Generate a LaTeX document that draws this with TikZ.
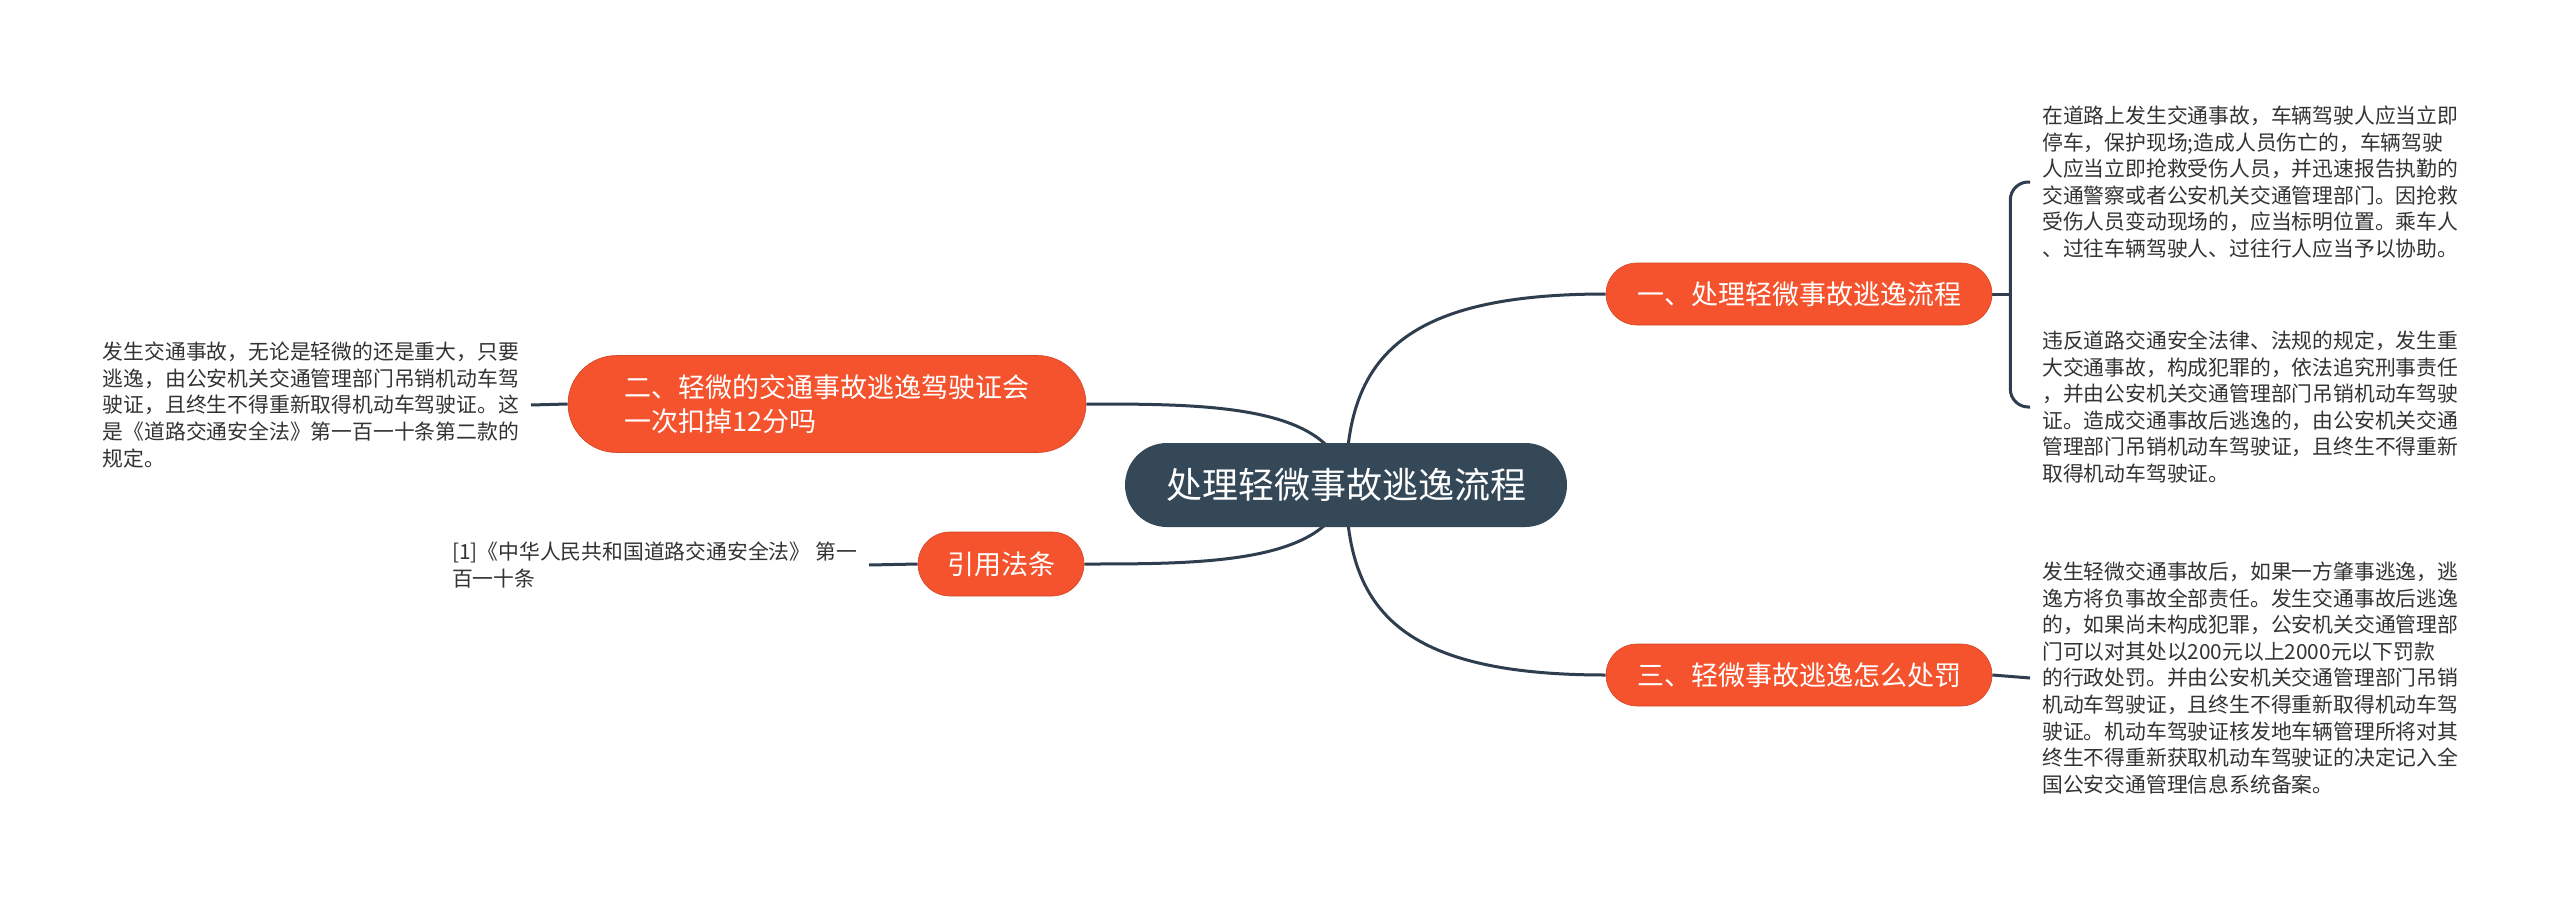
\documentclass[tikz,border=0pt]{standalone}
\usepackage{fontspec}
\setmainfont{Noto Sans CJK SC}
\usetikzlibrary{shapes.misc,backgrounds}
\definecolor{rootc}{HTML}{354858}
\definecolor{orc}{HTML}{F5532D}
\definecolor{linec}{HTML}{2F3E4E}
\definecolor{textc}{HTML}{333333}
\tikzset{
  rootnode/.style={rounded rectangle, fill=rootc, text=white, minimum width=442pt, minimum height=84pt, inner sep=0pt, font=\fontsize{36}{42}\selectfont},
  branchnode/.style={rounded rectangle, fill=orc, draw=orc!85!black, line width=0.6pt, text=white, minimum height=62pt, inner sep=0pt, font=\fontsize{27}{34}\selectfont},
  leafnode/.style={text=textc, align=left, inner sep=12pt, font=\fontsize{20.8}{26.6}\selectfont},
  conn/.style={draw=linec, line width=3pt}
}
\begin{document}
\begin{tikzpicture}[x=1pt,y=-1pt]
\useasboundingbox (0,0) rectangle (2560,897);

\node[rootnode] (root) at (1346,485) {处理轻微事故逃逸流程};

\node[branchnode, minimum width=386pt] (b1) at (1799,294) {一、处理轻微事故逃逸流程};
\node[branchnode, minimum width=386pt] (b3) at (1799,675) {三、轻微事故逃逸怎么处罚};
\node[branchnode, minimum width=518pt, minimum height=97pt, align=left] (b2) at (827,404) {二、轻微的交通事故逃逸驾驶证会\\一次扣掉12分吗};
\node[branchnode, minimum width=166pt, minimum height=64pt] (b4) at (1001,564) {引用法条};

\node[leafnode, anchor=west] (l1) at (2030,182) {在道路上发生交通事故，车辆驾驶人应当立即\\停车，保护现场;造成人员伤亡的，车辆驾驶\\人应当立即抢救受伤人员，并迅速报告执勤的\\交通警察或者公安机关交通管理部门。因抢救\\受伤人员变动现场的，应当标明位置。乘车人\\、过往车辆驾驶人、过往行人应当予以协助。};
\node[leafnode, anchor=west] (l2) at (2030,407) {违反道路交通安全法律、法规的规定，发生重\\大交通事故，构成犯罪的，依法追究刑事责任\\，并由公安机关交通管理部门吊销机动车驾驶\\证。造成交通事故后逃逸的，由公安机关交通\\管理部门吊销机动车驾驶证，且终生不得重新\\取得机动车驾驶证。};
\node[leafnode, anchor=west] (l3) at (2030,678) {发生轻微交通事故后，如果一方肇事逃逸，逃\\逸方将负事故全部责任。发生交通事故后逃逸\\的，如果尚未构成犯罪，公安机关交通管理部\\门可以对其处以200元以上2000元以下罚款\\的行政处罚。并由公安机关交通管理部门吊销\\机动车驾驶证，且终生不得重新取得机动车驾\\驶证。机动车驾驶证核发地车辆管理所将对其\\终生不得重新获取机动车驾驶证的决定记入全\\国公安交通管理信息系统备案。};
\node[leafnode, anchor=east] (l4) at (531,405) {发生交通事故，无论是轻微的还是重大，只要\\逃逸，由公安机关交通管理部门吊销机动车驾\\驶证，且终生不得重新取得机动车驾驶证。这\\是《道路交通安全法》第一百一十条第二款的\\规定。};
\node[leafnode, anchor=east] (l5) at (869,565) {[1]《中华人民共和国道路交通安全法》 第一\\百一十条};

\begin{pgfonlayer}{background}
\fill[white] (0,0) rectangle (2560,897);
\draw[conn] (root.center) .. controls +(0,-125) and ([xshift=-206pt]b1.west) .. (b1.west);
\draw[conn] (root.center) .. controls +(0,125) and ([xshift=-206pt]b3.west) .. (b3.west);
\draw[conn] (root.center) .. controls +(-10,-81) and ([xshift=120pt]b2.east) .. (b2.east);
\draw[conn] (root.center) .. controls +(-10,79) and ([xshift=120pt]b4.east) .. (b4.east);
\draw[conn] (b1.east) -- ++(18,0) coordinate (j1);
\draw[conn, rounded corners=18pt] (j1) |- (l1.west);
\draw[conn, rounded corners=18pt] (j1) |- (l2.west);
\draw[conn] (b3.east) -- (l3.west);
\draw[conn] (b2.west) -- (l4.east);
\draw[conn] (b4.west) -- (l5.east);
\end{pgfonlayer}
\end{tikzpicture}
\end{document}
